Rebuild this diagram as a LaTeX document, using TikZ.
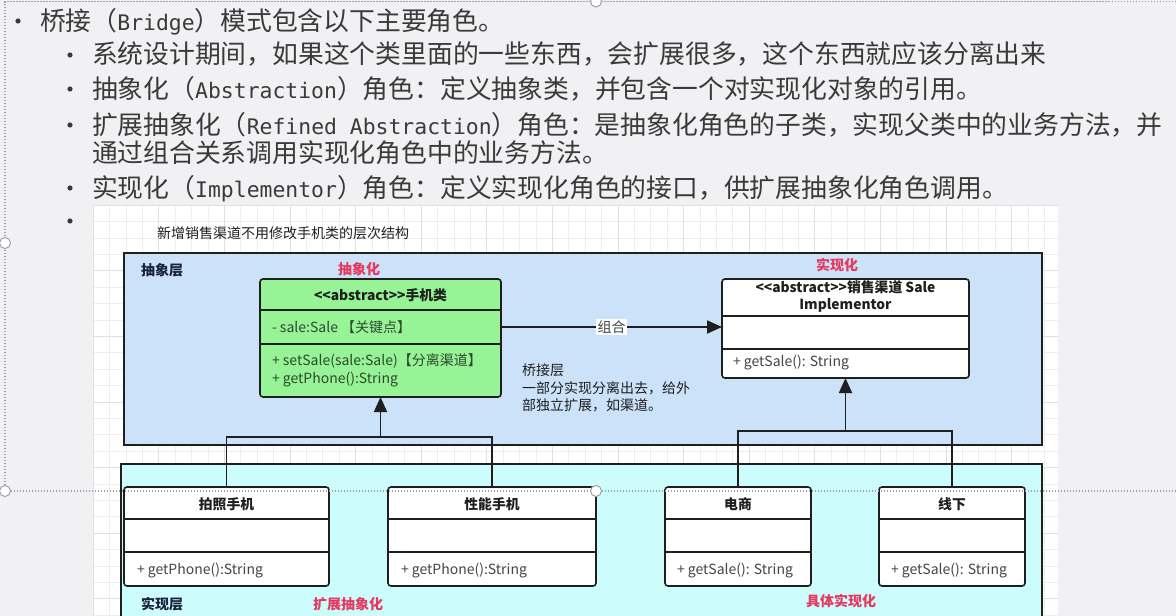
\documentclass[tikz,border=0pt]{standalone}
\usepackage{fontspec}
\setmainfont{Noto Sans CJK SC}
\newfontfamily\halfwidth{DejaVu Sans Mono}[Scale=0.83]
\usetikzlibrary{arrows.meta,calc}

\definecolor{slidebg}{HTML}{F1F1F4}
\definecolor{bodytext}{HTML}{3A3A3A}
\definecolor{gridminor}{HTML}{EEEEEE}
\definecolor{gridmajor}{HTML}{E0E0E0}
\definecolor{absfill}{HTML}{CCE2F8}
\definecolor{implfill}{HTML}{CCFCFC}
\definecolor{phonefill}{HTML}{96F396}
\definecolor{linecol}{HTML}{1F1F1F}
\definecolor{rolered}{HTML}{E5395F}
\definecolor{layerblue}{HTML}{1B2240}
\definecolor{greentext}{HTML}{2E4A2E}
\definecolor{membertext}{HTML}{444444}
\definecolor{selgray}{HTML}{A0A0A8}

% UML class box: name, x, y, width, height, first divider, second divider, fill
\newcommand\umlclass[8]{%
  \node[classbox, fill=#8, minimum width=#4pt, minimum height=#5pt] (#1) at (#2,#3) {};
  \draw[divider] ($(#1.north west)+(0,#6)$) -- ($(#1.north east)+(0,#6)$);
  \draw[divider] ($(#1.north west)+(0,#7)$) -- ($(#1.north east)+(0,#7)$);
}

\begin{document}
\begin{tikzpicture}[x=1pt,y=-1pt,
  every node/.style={inner sep=0pt, outer sep=0pt},
  bullettext/.style={anchor=base west, font=\fontsize{25.8}{30}\selectfont, text=bodytext},
  layerbox/.style={draw=linecol, line width=1.8pt, anchor=north west},
  classbox/.style={draw=linecol, line width=1.6pt, rounded corners=3pt, anchor=north west},
  divider/.style={draw=linecol, line width=1.6pt},
  hdr/.style={anchor=base, font=\bfseries\fontsize{13.8}{16}\selectfont, text=linecol},
  mem/.style={anchor=base west, font=\fontsize{14}{16}\selectfont, text=membertext},
  gmem/.style={mem, text=greentext},
  layerlbl/.style={anchor=base west, font=\bfseries\fontsize{14}{16}\selectfont, text=layerblue},
  rolelbl/.style={anchor=base, font=\bfseries\fontsize{14}{16}\selectfont, text=rolered},
  note/.style={anchor=base west, font=\fontsize{14}{17}\selectfont, text=linecol},
  conn/.style={draw=linecol, line width=1.8pt},
  inh/.style={conn, -{Triangle[length=15pt,width=13pt]}},
  handle/.style={draw=selgray, fill=white, line width=1pt},
  selline/.style={draw=selgray, line width=1.3pt, dash pattern=on 1.3pt off 1.7pt}
]
\useasboundingbox (0,0) rectangle (1176,616);
\fill[slidebg] (0,0) rectangle (1176,616);

% bullet list
\foreach \bx/\by in {18/21, 70/55, 70/89, 70/125, 70/188, 70/221}
  \fill[bodytext] (\bx,\by) circle[radius=2.6pt];
\node[bullettext] (l1) at (40,30) {桥接（{\halfwidth Bridge}）模式包含以下主要角色。};
\node[bullettext] (l2) at (92,63) {系统设计期间，如果这个类里面的一些东西，会扩展很多，这个东西就应该分离出来};
\node[bullettext] (l3) at (92,98) {抽象化（{\halfwidth Abstraction}）角色：定义抽象类，并包含一个对实现化对象的引用。};
\node[bullettext] (l4) at (92,134) {扩展抽象化（{\halfwidth Refined Abstraction}）角色：是抽象化角色的子类，实现父类中的业务方法，并};
\node[bullettext] (l5) at (92,162) {通过组合关系调用实现化角色中的业务方法。};
\node[bullettext] (l6) at (92,197) {实现化（{\halfwidth Implementor}）角色：定义实现化角色的接口，供扩展抽象化角色调用。};

% diagram canvas with grid
\fill[white] (93,205) rectangle (1058,616);
\foreach \i in {0,...,58}
  \draw[gridminor, line width=0.6pt] ({93+16.4*\i},205) -- ({93+16.4*\i},616);
\foreach \j in {0,...,25}
  \draw[gridminor, line width=0.6pt] (93,{205+16.4*\j}) -- (1058,{205+16.4*\j});
\foreach \i in {0,...,14}
  \draw[gridmajor, line width=0.6pt] ({93+65.6*\i},205) -- ({93+65.6*\i},616);
\foreach \j in {0,...,6}
  \draw[gridmajor, line width=0.6pt] (93,{205+65.6*\j}) -- (1058,{205+65.6*\j});

\node[anchor=base west, font=\fontsize{14}{16}\selectfont, text=linecol] (title) at (157,238) {新增销售渠道不用修改手机类的层次结构};

% layers
\node[layerbox, fill=absfill, minimum width=918pt, minimum height=192pt] (abslayer) at (124,253) {};
\node[layerbox, fill=implfill, minimum width=921pt, minimum height=175pt] (impllayer) at (121,464) {};
\node[layerlbl] (abslbl) at (141,275) {抽象层};
\node[layerlbl] (impllbl) at (141,609) {实现层};
\node[rolelbl] (r1) at (359,274) {抽象化};
\node[rolelbl] (r2) at (837,270) {实现化};
\node[rolelbl] (r3) at (348,609) {扩展抽象化};
\node[rolelbl] (r4) at (841,606) {具体实现化};

% classes
\umlclass{phone}{260}{279}{241}{118}{31}{65}{phonefill}
\node[hdr] (phoneh) at ($(phone.north)+(0,21)$) {<{}<abstract>{}>手机类};
\node[gmem] (phonea) at (272,332) {- sale:Sale 【关键点】};
\node[gmem] (phonem1) at (272,365) {+ setSale(sale:Sale)【分离渠道】};
\node[gmem] (phonem2) at (272,383) {+ getPhone():String};

\umlclass{sale}{722}{279}{247}{99}{37}{70}{white}
\node[hdr] (saleh1) at ($(sale.north)+(0,13)$) {<{}<abstract>{}>销售渠道 Sale};
\node[hdr] (saleh2) at ($(sale.north)+(0,30)$) {Implementor};
\node[mem] (salem) at (733,366) {+ getSale(): String};

\umlclass{pz}{124}{487}{205}{99}{32}{65}{white}
\node[hdr] (pzh) at ($(pz.north)+(0,22)$) {拍照手机};
\node[mem] (pzm) at (137,574) {+ getPhone():String};

\umlclass{xn}{388}{487}{208}{99}{32}{65}{white}
\node[hdr] (xnh) at ($(xn.north)+(0,22)$) {性能手机};
\node[mem] (xnm) at (401,574) {+ getPhone():String};

\umlclass{ds}{665}{487}{146}{99}{32}{65}{white}
\node[hdr] (dsh) at ($(ds.north)+(0,22)$) {电商};
\node[mem] (dsm) at (677,574) {+ getSale(): String};

\umlclass{xx}{879}{487}{146}{99}{32}{65}{white}
\node[hdr] (xxh) at ($(xx.north)+(0,22)$) {线下};
\node[mem] (xxm) at (891,574) {+ getSale(): String};

% composition
\draw[inh] ($(phone.north east)+(0,48)$) -- ($(sale.north west)+(0,48)$)
  node[midway, fill=white, inner sep=1.5pt, font=\fontsize{14}{16}\selectfont, text=membertext] (comp) {组合};

\node[note] (bridge1) at (522,375) {桥接层};
\node[note] (bridge2) at (522,393) {一部分实现分离出去，给外};
\node[note] (bridge3) at (522,410) {部独立扩展，如渠道。};

% inheritance
\coordinate (jl) at ($(phone.south)+(0,40)$);
\draw[conn] (pz.north) |- (jl) -| (xn.north);
\draw[inh] (jl) -- (phone.south);
\coordinate (jr) at ($(sale.south)+(0,53)$);
\draw[conn] (ds.north) |- (jr) -| (xx.north);
\draw[inh] (jr) -- (sale.south);

% text box selection frame
\draw[selline] (5,491) -- (5,1.5) -- (1180,1.5);
\draw[selline] (5,491) -- (1180,491);
\foreach \hx/\hy in {5/243, 5/491, 596/1.5, 596/491}
  \draw[handle] (\hx,\hy) circle[radius=5.5pt];
\end{tikzpicture}
\end{document}
